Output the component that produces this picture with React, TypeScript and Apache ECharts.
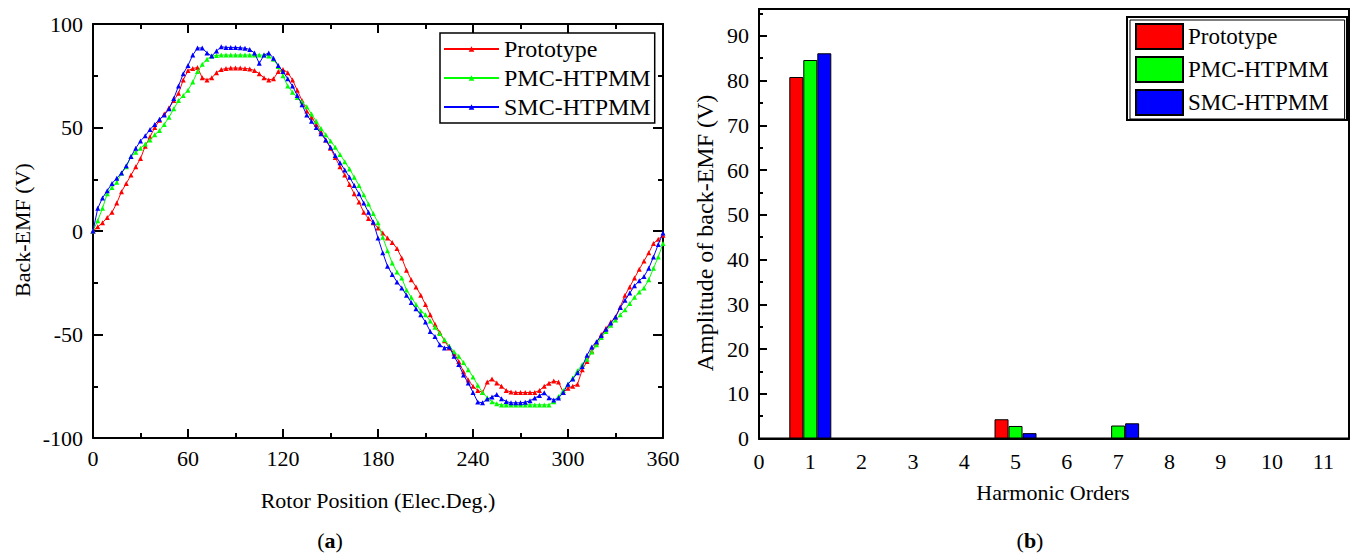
import React, { useEffect, useRef } from "react";
import * as echarts from "echarts";

const FONT = '"Liberation Serif", "Times New Roman", Times, serif';

// Rotor position (electrical degrees)
const angles = [
  0, 3, 6, 9, 12, 15, 18, 21, 24, 27,
  30, 33, 36, 39, 42, 45, 48, 51, 54, 57,
  60, 63, 66, 69, 72, 75, 78, 81, 84, 87,
  90, 93, 96, 99, 102, 105, 108, 111, 114, 117,
  120, 123, 126, 129, 132, 135, 138, 141, 144, 147,
  150, 153, 156, 159, 162, 165, 168, 171, 174, 177,
  180, 183, 186, 189, 192, 195, 198, 201, 204, 207,
  210, 213, 216, 219, 222, 225, 228, 231, 234, 237,
  240, 243, 246, 249, 252, 255, 258, 261, 264, 267,
  270, 273, 276, 279, 282, 285, 288, 291, 294, 297,
  300, 303, 306, 309, 312, 315, 318, 321, 324, 327,
  330, 333, 336, 339, 342, 345, 348, 351, 354, 357,
  360,
];

const prototypeEmf = [
  0, 2, 4, 6.5, 9, 13.5, 19, 23, 27, 31,
  35, 41, 45.5, 50, 53.5, 56.5, 59.5, 63, 66.5, 73,
  77.5, 78.5, 79, 74, 73, 74, 76.5, 78, 78.5, 78.7,
  78.7, 78.7, 78.5, 78.3, 77.5, 76, 74, 73, 73.5, 77,
  78, 76.5, 73, 68, 63, 58, 55, 51.5, 48, 44,
  40, 35.5, 31, 27, 22.5, 18, 14, 9, 6, 4,
  1.5, -1, -3.4, -5.5, -8.5, -13, -19, -23.5, -27, -31,
  -35.5, -40.5, -45, -49, -53, -56.5, -59, -63, -68, -72,
  -75, -77, -78, -73, -71.5, -73.4, -75, -77, -77.8, -78,
  -78, -78, -78, -78, -77, -75, -73.5, -72.5, -73, -78,
  -76, -75, -74, -67, -63, -58, -54, -50, -47, -44,
  -41.5, -36.7, -31, -27, -22.7, -18.5, -14.5, -10.5, -6, -4,
  -2,
];

const pmcEmf = [
  0, 5, 11, 18, 21, 23.5, 28, 31, 36, 38,
  40, 42, 44, 46.5, 48.5, 51.5, 55, 59, 63, 65.5,
  68, 72, 77, 80.5, 83, 84.5, 84.8, 85, 85, 85,
  85, 85, 85, 85, 85, 85, 85, 84.5, 83, 79.5,
  75, 70, 67, 64.5, 62.5, 60, 56.5, 53, 49.5, 46.5,
  43.5, 40.5, 37, 33.5, 30, 26, 22, 17.5, 13, 8.5,
  4, -3, -9.5, -15.5, -19.8, -22.7, -28.5, -32, -35.5, -38.5,
  -40.5, -43.5, -46.5, -49.5, -52.5, -55.5, -58.3, -60.5, -63.5, -67,
  -70.5, -74.5, -78, -80.5, -82.5, -83.5, -84, -84, -84, -84,
  -84, -84, -84, -84, -84, -84, -84, -82.5, -80, -77,
  -74, -71, -67.5, -64.5, -62, -58.5, -55, -51.5, -48.5, -45.5,
  -43, -40.5, -38, -35, -32, -29.5, -27.5, -23.5, -18, -12.5,
  -6,
];

const smcEmf = [
  0, 11, 16, 19.5, 23, 25.5, 28, 31.5, 36, 40,
  43.5, 46, 49, 51.5, 54, 56, 59, 64, 70, 76,
  80, 85, 88.4, 88.4, 86, 84.5, 87, 89, 88.7, 88.7,
  88.7, 88.5, 88.3, 87.7, 86, 81, 85, 86, 83.5, 80,
  77, 73.5, 70, 65.5, 61, 56, 53, 50, 47, 44,
  40.5, 36.5, 33, 29.5, 26, 22, 18, 13.5, 9, 4.3,
  -3.4, -10.5, -17, -21, -24.6, -27.5, -31, -34.5, -37.5, -40.5,
  -44, -48.5, -51, -55, -56.5, -56, -60.5, -64.5, -69.6, -73.4,
  -78, -82.6, -83, -81.2, -80.2, -79, -81, -82.4, -83, -83,
  -83, -82.7, -82, -80.7, -79.5, -78.2, -80.5, -81.6, -80.7, -78,
  -74, -71.5, -68.5, -65.5, -60, -56, -53.5, -50.5, -47.5, -44.5,
  -41.5, -37, -33.5, -30, -26.5, -24, -22, -18, -12.5, -6.5,
  -1,
];

// Harmonic analysis
const harmonicOrders = [1, 5, 7];
const prototypeAmp = [80.8, 4.3, 0];
const pmcAmp = [84.6, 2.8, 2.9];
const smcAmp = [86.1, 1.2, 3.4];

const seriesNames = ["Prototype", "PMC-HTPMM", "SMC-HTPMM"];
const colors = ["#ff0000", "#00ff00", "#0000ff"];

const pair = (xs: number[], ys: number[]) => xs.map((x, i) => [x, ys[i]]);

export default function App() {
  const ref = useRef<HTMLDivElement>(null);

  useEffect(() => {
    if (!ref.current) return;
    const chart = echarts.init(ref.current, null, { renderer: "svg" });

    const axisLine = { show: true, onZero: false, lineStyle: { color: "#000", width: 2 } };
    const labelStyle = { color: "#000", fontSize: 22, fontFamily: FONT };
    const titleStyle = {
      fontSize: 22,
      fontFamily: FONT,
      fill: "#000",
      align: "center",
      verticalAlign: "middle",
    };

    const emfArrays = [prototypeEmf, pmcEmf, smcEmf];
    const ampArrays = [prototypeAmp, pmcAmp, smcAmp];

    const option: any = {
      animation: false,
      backgroundColor: "#fff",
      textStyle: { fontFamily: FONT },
      grid: [
        { left: 93, top: 24, width: 570, height: 414, show: false },
        {
          left: 759,
          top: 9,
          width: 590,
          height: 429.5,
          show: true,
          borderColor: "#000",
          borderWidth: 2,
          backgroundColor: "transparent",
        },
      ],
      xAxis: [
        {
          gridIndex: 0,
          type: "value",
          min: 0,
          max: 360,
          interval: 60,
          position: "bottom",
          axisLine,
          axisTick: { inside: true, length: 9, lineStyle: { color: "#000", width: 2 } },
          minorTick: { show: true, splitNumber: 2, length: 5, lineStyle: { color: "#000", width: 2 } },
          axisLabel: { ...labelStyle, margin: 9 },
          splitLine: { show: false },
        },
        {
          gridIndex: 0,
          type: "value",
          min: 0,
          max: 360,
          interval: 60,
          position: "top",
          axisLine,
          axisTick: { inside: true, length: 9, lineStyle: { color: "#000", width: 2 } },
          minorTick: { show: true, splitNumber: 2, length: 5, lineStyle: { color: "#000", width: 2 } },
          axisLabel: { show: false },
          splitLine: { show: false },
        },
        {
          gridIndex: 1,
          type: "value",
          min: 0,
          max: 11.5,
          interval: 1,
          position: "bottom",
          axisLine,
          axisTick: { show: false },
          axisLabel: {
            ...labelStyle,
            margin: 12,
            showMaxLabel: false,
            formatter: (v: number) => (Number.isInteger(v) ? String(v) : ""),
          },
          splitLine: { show: false },
        },
      ],
      yAxis: [
        {
          gridIndex: 0,
          type: "value",
          min: -100,
          max: 100,
          interval: 50,
          position: "left",
          axisLine,
          axisTick: { inside: true, length: 10, lineStyle: { color: "#000", width: 2 } },
          minorTick: { show: true, splitNumber: 2, length: 5, lineStyle: { color: "#000", width: 2 } },
          axisLabel: { ...labelStyle, margin: 10 },
          splitLine: { show: false },
        },
        {
          gridIndex: 0,
          type: "value",
          min: -100,
          max: 100,
          interval: 50,
          position: "right",
          axisLine,
          axisTick: { inside: true, length: 10, lineStyle: { color: "#000", width: 2 } },
          minorTick: { show: true, splitNumber: 2, length: 5, lineStyle: { color: "#000", width: 2 } },
          axisLabel: { show: false },
          splitLine: { show: false },
        },
        {
          gridIndex: 1,
          type: "value",
          min: 0,
          max: 96,
          interval: 10,
          position: "left",
          axisLine,
          axisTick: { inside: true, length: 8, lineStyle: { color: "#000", width: 2 } },
          axisLabel: {
            ...labelStyle,
            margin: 10,
            formatter: (v: number) => (v % 10 === 0 ? String(v) : ""),
          },
          splitLine: { show: false },
        },
        {
          gridIndex: 1,
          type: "value",
          min: 0,
          max: 96,
          interval: 5,
          position: "left",
          axisLine: { show: false },
          axisTick: { inside: true, length: 4, lineStyle: { color: "#000", width: 2 } },
          axisLabel: { show: false },
          splitLine: { show: false },
        },
      ],
      legend: [
        {
          data: seriesNames,
          orient: "vertical",
          left: 440,
          top: 33,
          itemWidth: 55,
          itemHeight: 7,
          itemGap: 5,
          padding: [4, 4, 4, 3],
          borderColor: "#000",
          borderWidth: 1.5,
          backgroundColor: "#fff",
          textStyle: { color: "#000", fontSize: 24, fontFamily: FONT },
        },
        {
          data: seriesNames.map((n) => "bar:" + n),
          formatter: (n: string) => n.replace("bar:", ""),
          icon: "rect",
          orient: "vertical",
          left: 1130,
          top: 20,
          itemWidth: 47,
          itemHeight: 25,
          itemGap: 6,
          padding: [3, 16, 3, 5],
          borderColor: "#000",
          borderWidth: 1,
          backgroundColor: "#fff",
          textStyle: { color: "#000", fontSize: 23, fontFamily: FONT },
        },
      ],
      series: [
        ...emfArrays.map((arr, i) => ({
          type: "line",
          name: seriesNames[i],
          xAxisIndex: 0,
          yAxisIndex: 0,
          data: pair(angles, arr),
          symbol: "triangle",
          symbolSize: 5,
          color: colors[i],
          lineStyle: { width: 1, color: colors[i] },
          itemStyle: { color: colors[i] },
          z: 3 + i,
        })),
        ...ampArrays.map((arr, i) => ({
          type: "bar",
          name: "bar:" + seriesNames[i],
          xAxisIndex: 2,
          yAxisIndex: 2,
          data: pair(harmonicOrders, arr),
          barWidth: 14,
          barGap: "0%",
          itemStyle: { color: colors[i], borderColor: "#000", borderWidth: 1 },
        })),
      ],
      graphic: [
        {
          type: "rect",
          shape: { x: 1127, y: 17, width: 220, height: 103 },
          style: { fill: "none", stroke: "#000", lineWidth: 2 },
          z: 100,
        },
        {
          type: "text",
          x: 22,
          y: 230,
          rotation: Math.PI / 2,
          style: { ...titleStyle, text: "Back-EMF (V)" },
        },
        {
          type: "text",
          x: 378,
          y: 500,
          style: { ...titleStyle, text: "Rotor Position (Elec.Deg.)" },
        },
        {
          type: "text",
          x: 330,
          y: 540,
          style: {
            ...titleStyle,
            text: "({b|a})",
            rich: { b: { fontWeight: "bold", fontSize: 22, fontFamily: FONT, fill: "#000" } },
          },
        },
        {
          type: "text",
          x: 705,
          y: 233,
          rotation: Math.PI / 2,
          style: { ...titleStyle, fontSize: 24, text: "Amplitude of back-EMF (V)" },
        },
        {
          type: "text",
          x: 1053,
          y: 492,
          style: { ...titleStyle, text: "Harmonic Orders" },
        },
        {
          type: "text",
          x: 1030,
          y: 540,
          style: {
            ...titleStyle,
            text: "({b|b})",
            rich: { b: { fontWeight: "bold", fontSize: 22, fontFamily: FONT, fill: "#000" } },
          },
        },
      ],
    };

    chart.setOption(option);
    return () => chart.dispose();
  }, []);

  return (
    <div
      ref={ref}
      style={{ position: "absolute", left: 0, top: 0, width: 1355, height: 554, background: "#fff" }}
    />
  );
}
